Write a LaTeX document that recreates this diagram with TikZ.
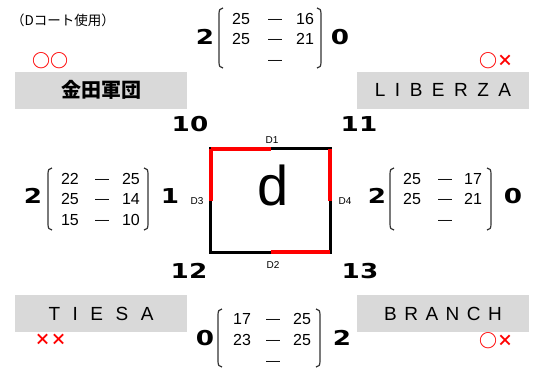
\documentclass[tikz,border=0pt]{standalone}
\usepackage{fontspec}
\setmainfont{Liberation Sans}
\newfontfamily\jpfont{Noto Sans CJK JP}
\newfontfamily\numfont{DejaVu Sans}[FakeStretch=1.28]
\definecolor{boxgray}{HTML}{D9D9D9}
\definecolor{markred}{HTML}{FF0000}
\newcommand\myLparen[3]{\draw[paren] (#1+4,#2) .. controls (#1+1,#2) and (#1,#2+2) .. (#1,#2+6) -- (#1,#3-6) .. controls (#1,#3-2) and (#1+1,#3) .. (#1+4,#3);}
\newcommand\myRparen[3]{\draw[paren] (#1-4,#2) .. controls (#1-1,#2) and (#1,#2+2) .. (#1,#2+6) -- (#1,#3-6) .. controls (#1,#3-2) and (#1-1,#3) .. (#1-4,#3);}
\newcommand\tgap[1]{\hspace{#1pt}}
\newcommand\smallx{\raisebox{0.8pt}{\fontsize{16}{16}\selectfont ×}}
\begin{document}
\begin{tikzpicture}[x=1pt,y=-1pt,
  teambox/.style={fill=boxgray, minimum width=172pt, minimum height=37pt, inner sep=0pt},
  teamname/.style={font=\fontsize{19}{19}\selectfont, inner sep=0pt},
  jpname/.style={font=\jpfont\bfseries\fontsize{20}{20}\selectfont, inner sep=0pt},
  redmark/.style={text=markred, font=\jpfont\bfseries\fontsize{18}{18}\selectfont, inner sep=0pt},
  sets/.style={font=\fontsize{16}{16}\selectfont, inner sep=0pt, text height=0.716em, text depth=0pt},
  dashsign/.style={font=\fontsize{14}{14}\selectfont, inner sep=0pt, text height=0.535em, text depth=0pt},
  setcount/.style={font=\numfont\bfseries\fontsize{20.5}{20.5}\selectfont, inner sep=0pt, text height=0.729em, text depth=0pt},
  paren/.style={line width=1.2pt, draw=black!80},
  dlabel/.style={font=\fontsize{10}{10}\selectfont, inner sep=0pt, text height=0.716em, text depth=0pt},
  courtside/.style={line width=3pt, draw=black},
  redside/.style={line width=4.5pt, draw=markred},
]
\useasboundingbox (0,0) rectangle (535,368);

% title
\node[font=\jpfont\fontsize{13.5}{13.5}\selectfont, anchor=west, inner sep=0pt] (title) at (11,20) {（Dコート使用）};

% team boxes
\node[teambox] (kaneda) at (101,90) {};
\node[jpname] (kanedaname) at (kaneda) {金田軍団};
\node[teambox] (liberza) at (443,90) {};
\node[teamname] (liberzaname) at (liberza) {L\tgap{9.5}I\tgap{9.5}B\tgap{9.5}E\tgap{9.5}R\tgap{9.5}Z\tgap{9.5}A};
\node[teambox] (tiesa) at (101,313.5) {};
\node[teamname] (tiesaname) at (tiesa) {T\tgap{12.5}I\tgap{12.5}E\tgap{12.5}S\tgap{12.5}A};
\node[teambox] (branch) at (443,313.5) {};
\node[teamname] (branchname) at (branch) {B\tgap{7.5}R\tgap{7.5}A\tgap{7.5}N\tgap{7.5}C\tgap{7.5}H};

% red marks
\node[redmark] (mk1) at (50.5,60.5) {○○};
\node[redmark] (mk2) at (496,60.5) {○\smallx};
\node[redmark] (mk3) at (50.5,340.5) {\smallx\smallx};
\node[redmark] (mk4) at (496,340.5) {○\smallx};

% court
\node[minimum width=119pt, minimum height=103pt, inner sep=0pt] (court) at (270.5,200.5) {};
\draw[courtside] (court.north west) rectangle (court.south east);
\draw[redside] (court.north west) -- (court.north);
\draw[redside] (court.north west) -- (court.west);
\draw[redside] (court.north east) -- (court.east);
\draw[redside] (court.south) -- (court.south east);
\node[font=\fontsize{56}{56}\selectfont, inner sep=0pt, text height=0.716em, text depth=0pt] (dletter) at (273,202) {d};
\node[dlabel] (d1) at (272,140) {D1};
\node[dlabel] (d2) at (273,265) {D2};
\node[dlabel] (d3) at (197,201) {D3};
\node[dlabel] (d4) at (345,201) {D4};

% corner numbers
\node[setcount] (n10) at (190,128) {10};
\node[setcount] (n11) at (359,128) {11};
\node[setcount] (n12) at (189,275) {12};
\node[setcount] (n13) at (360,275) {13};

% top match
\node[setcount] (tA) at (205,41) {2};
\node[setcount] (tB) at (340,41) {0};
\myLparen{219}{8}{68}
\myRparen{321}{8}{68}
\node[sets] (t11) at (241,21) {25};
\node[dashsign] (t12) at (275,21) {—};
\node[sets] (t13) at (305,21) {16};
\node[sets] (t21) at (241,41) {25};
\node[dashsign] (t22) at (275,41) {—};
\node[sets] (t23) at (305,41) {21};
\node[dashsign] (t32) at (275,62) {—};

% left match
\node[setcount] (lA) at (33,200) {2};
\node[setcount] (lB) at (170,200) {1};
\myLparen{48}{168}{230}
\myRparen{148}{168}{230}
\node[sets] (l11) at (70,181) {22};
\node[dashsign] (l12) at (102,181) {—};
\node[sets] (l13) at (131,181) {25};
\node[sets] (l21) at (70,201) {25};
\node[dashsign] (l22) at (102,201) {—};
\node[sets] (l23) at (131,201) {14};
\node[sets] (l31) at (70,222) {15};
\node[dashsign] (l32) at (102,222) {—};
\node[sets] (l33) at (131,222) {10};

% right match
\node[setcount] (rA) at (377,200) {2};
\node[setcount] (rB) at (513,200) {0};
\myLparen{390}{168}{230}
\myRparen{491}{168}{230}
\node[sets] (r11) at (412,181) {25};
\node[dashsign] (r12) at (445,181) {—};
\node[sets] (r13) at (473,181) {17};
\node[sets] (r21) at (412,201) {25};
\node[dashsign] (r22) at (445,201) {—};
\node[sets] (r23) at (473,201) {21};
\node[dashsign] (r32) at (445,222) {—};

% bottom match
\node[setcount] (bA) at (205,342) {0};
\node[setcount] (bB) at (342,342) {2};
\myLparen{218}{309}{367}
\myRparen{320}{309}{367}
\node[sets] (b11) at (242,321) {17};
\node[dashsign] (b12) at (273,321) {—};
\node[sets] (b13) at (302,321) {25};
\node[sets] (b21) at (242,342) {23};
\node[dashsign] (b22) at (273,342) {—};
\node[sets] (b23) at (302,342) {25};
\node[dashsign] (b32) at (273,363) {—};
\end{tikzpicture}
\end{document}
